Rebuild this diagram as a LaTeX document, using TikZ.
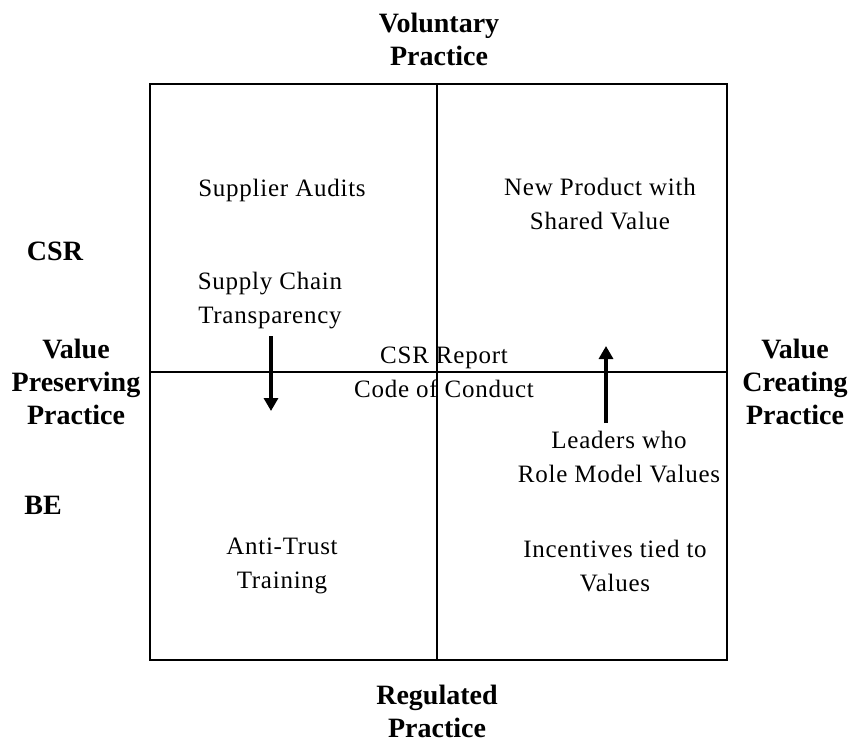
\documentclass[tikz,border=0pt]{standalone}
\usepackage{fontspec}
\setmainfont{Liberation Serif}
\newfontfamily\spaced[LetterSpace=3]{Liberation Serif}
\usetikzlibrary{arrows.meta}
\begin{document}
\begin{tikzpicture}[x=1pt,y=-1pt,
  lbl/.style={inner sep=0pt,align=center,font=\spaced\fontsize{25}{34}\selectfont},
  blbl/.style={inner sep=0pt,align=center,font=\fontsize{28}{33}\selectfont\bfseries},
  grid/.style={line width=1.5pt},
  arr/.style={line width=3.2pt,-{Triangle[width=14pt,length=13pt]}}]
\useasboundingbox (0,0) rectangle (851,742);
\coordinate (tl) at (150,84);
\coordinate (br) at (727,660);
\draw[grid] (tl) rectangle (br);
\coordinate (vt) at (437,84);
\coordinate (vb) at (437,660);
\coordinate (hl) at (150,372);
\coordinate (hr) at (727,372);
\draw[grid] (vt) -- (vb);
\draw[grid] (hl) -- (hr);
% outer labels
\node[blbl] (vol) at (439,39) {Voluntary\\Practice};
\node[blbl] (reg) at (437,711) {Regulated\\Practice};
\node[blbl] (csr) at (55,251) {CSR};
\node[blbl] (vpp) at (76,382) {Value\\Preserving\\Practice};
\node[blbl] (be) at (43,505) {BE};
\node[blbl] (vcp) at (795,382) {Value\\Creating\\Practice};
% inner labels
\node[lbl] (sa) at (282,190) {Supplier Audits};
\node[lbl] (sct) at (270,301) {Supply Chain\\Transparency};
\node[lbl] (np) at (600,204) {New Product with\\Shared Value};
\node[lbl] (csrr) at (444,372) {CSR Report\\Code of Conduct};
\node[lbl] (lead) at (619,457) {Leaders who\\Role Model Values};
\node[lbl] (at) at (282,566) {Anti-Trust\\Training};
\node[lbl] (inc) at (615,566) {Incentives tied to\\Values};
% arrows
\coordinate (a1s) at (271,336);
\coordinate (a1e) at (271,411);
\coordinate (a2s) at (606,423);
\coordinate (a2e) at (606,346);
\draw[arr] (a1s) -- (a1e);
\draw[arr] (a2s) -- (a2e);
\end{tikzpicture}
\end{document}
